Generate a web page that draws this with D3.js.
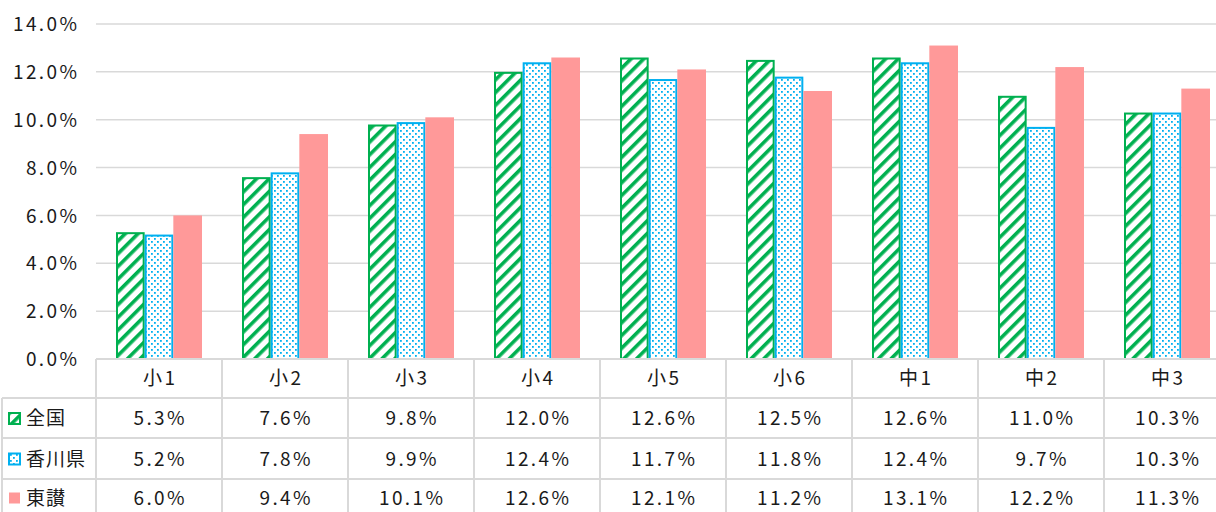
<!DOCTYPE html>
<html><head><meta charset="utf-8">
<script src="https://cdn.jsdelivr.net/npm/d3@7"></script>
<style>
html,body{margin:0;padding:0;background:#fff;}
svg{display:block;font-family:"Noto Sans CJK JP","Noto Sans",sans-serif;}
</style></head>
<body><svg id="c" width="1216" height="512"></svg>
<script>
const categories = ["小1","小2","小3","小4","小5","小6","中1","中2","中3"];
const seriesNames = ["全国","香川県","東讃"];
const zenkoku = [5.3,7.6,9.8,12.0,12.6,12.5,12.6,11.0,10.3];
const kagawa = [5.2,7.8,9.9,12.4,11.7,11.8,12.4,9.7,10.3];
const tosan = [6.0,9.4,10.1,12.6,12.1,11.2,13.1,12.2,11.3];
const yTicks = [0,2,4,6,8,10,12,14];

(function(){
const seriesValues = [zenkoku, kagawa, tosan];
const svg = d3.select("#c");
const W = 1216;
const mLeft = 96, mTop = 24, mBottom = 359;
const colW = 126;
const LS = 2.4;
const FS = 19;

const defs = svg.append("defs");
const stripe = defs.append("pattern").attr("id","stripe").attr("patternUnits","userSpaceOnUse")
  .attr("width",9).attr("height",9).attr("patternTransform","rotate(45)");
stripe.append("rect").attr("width",9).attr("height",9).attr("fill","#fff");
stripe.append("rect").attr("x",0).attr("y",0).attr("width",3.6).attr("height",9).attr("fill","#00b050");
const dots = defs.append("pattern").attr("id","dots").attr("patternUnits","userSpaceOnUse")
  .attr("width",6).attr("height",6);
dots.append("rect").attr("width",6).attr("height",6).attr("fill","#fff");
dots.append("rect").attr("x",1).attr("y",1).attr("width",1.8).attr("height",1.8).attr("fill","#00b0f0");
dots.append("rect").attr("x",4).attr("y",4).attr("width",1.8).attr("height",1.8).attr("fill","#00b0f0");

const styles = [
  {fill:"url(#stripe)", stroke:"#00b050", sw:2},
  {fill:"url(#dots)", stroke:"#00b0f0", sw:2},
  {fill:"#ff9999", stroke:"none", sw:0}
];

const x = d3.scaleBand().domain(categories).range([mLeft, mLeft + colW*categories.length]).paddingInner(0).paddingOuter(0);
const xs = d3.scaleBand().domain(seriesNames).range([20, colW-20]).paddingInner(0).paddingOuter(0);
const y = d3.scaleLinear().domain([0,14]).range([mBottom, mTop]);

svg.append("g").selectAll("line").data(yTicks).join("line")
  .attr("x1",mLeft).attr("x2",W).attr("y1",d=>y(d)).attr("y2",d=>y(d))
  .attr("stroke","#d9d9d9").attr("stroke-width",1.5);

const yAxis = d3.axisLeft(y).tickValues(yTicks).tickSize(0).tickPadding(0).tickFormat(d=>d.toFixed(1)+"%");
const ya = svg.append("g").attr("transform",`translate(${77+LS},0)`).call(yAxis);
ya.select(".domain").remove();
ya.selectAll("text").attr("font-size",FS).attr("fill","#1a1a1a").attr("letter-spacing",LS)
  .attr("font-family","\"Noto Sans CJK JP\",sans-serif").attr("dy","0.35em");

seriesNames.forEach((s,si)=>{
  const st = styles[si];
  svg.append("g").selectAll("rect").data(seriesValues[si]).join("rect")
    .attr("x",(d,i)=>x(categories[i]) + xs(s) + st.sw/2)
    .attr("width",xs.bandwidth() - st.sw)
    .attr("y",d=>y(d) + st.sw/2)
    .attr("height",d=>mBottom - y(d) - st.sw/2)
    .attr("fill",st.fill).attr("stroke",st.stroke).attr("stroke-width",st.sw);
});

const rowY = [359, 398, 438, 479, 520];
const tg = svg.append("g");
const lc = "#d9d9d9";
tg.append("line").attr("x1",mLeft).attr("x2",W).attr("y1",rowY[0]).attr("y2",rowY[0]).attr("stroke",lc).attr("stroke-width",2);
[1,2,3].forEach(r=>{
  tg.append("line").attr("x1",2).attr("x2",W).attr("y1",rowY[r]).attr("y2",rowY[r]).attr("stroke",lc).attr("stroke-width",2);
});
tg.append("line").attr("x1",2).attr("x2",2).attr("y1",rowY[1]).attr("y2",512).attr("stroke",lc).attr("stroke-width",2);
categories.forEach((c,i)=>{
  const xx = x(c);
  tg.append("line").attr("x1",xx).attr("x2",xx).attr("y1",rowY[0]).attr("y2",512).attr("stroke",lc).attr("stroke-width",2);
});
tg.selectAll("text.h").data(categories).join("text").attr("class","h")
  .attr("x",d=>x(d)+colW/2+LS/2).attr("y",(rowY[0]+rowY[1])/2).attr("dy","0.35em")
  .attr("text-anchor","middle").attr("font-size",FS).attr("letter-spacing",LS).attr("fill","#1a1a1a").text(d=>d);
seriesNames.forEach((s,si)=>{
  const cy = si < 2 ? (rowY[si+1]+rowY[si+2])/2 + 0.5 : 498;
  tg.append("g").selectAll("text").data(seriesValues[si]).join("text")
    .attr("x",(d,i)=>x(categories[i])+colW/2+LS/2).attr("y",cy).attr("dy","0.35em")
    .attr("text-anchor","middle").attr("font-size",FS).attr("letter-spacing",LS).attr("fill","#1a1a1a").text(d=>d.toFixed(1)+"%");
  const st = styles[si];
  tg.append("rect").attr("x",9).attr("y",cy-5.5).attr("width",11).attr("height",11)
    .attr("fill", st.fill).attr("stroke",st.stroke).attr("stroke-width",st.sw);
  tg.append("text").attr("x",26).attr("y",cy).attr("dy","0.35em")
    .attr("font-size",FS).attr("letter-spacing",1).attr("fill","#1a1a1a").text(s);
});
})();
</script></body></html>
